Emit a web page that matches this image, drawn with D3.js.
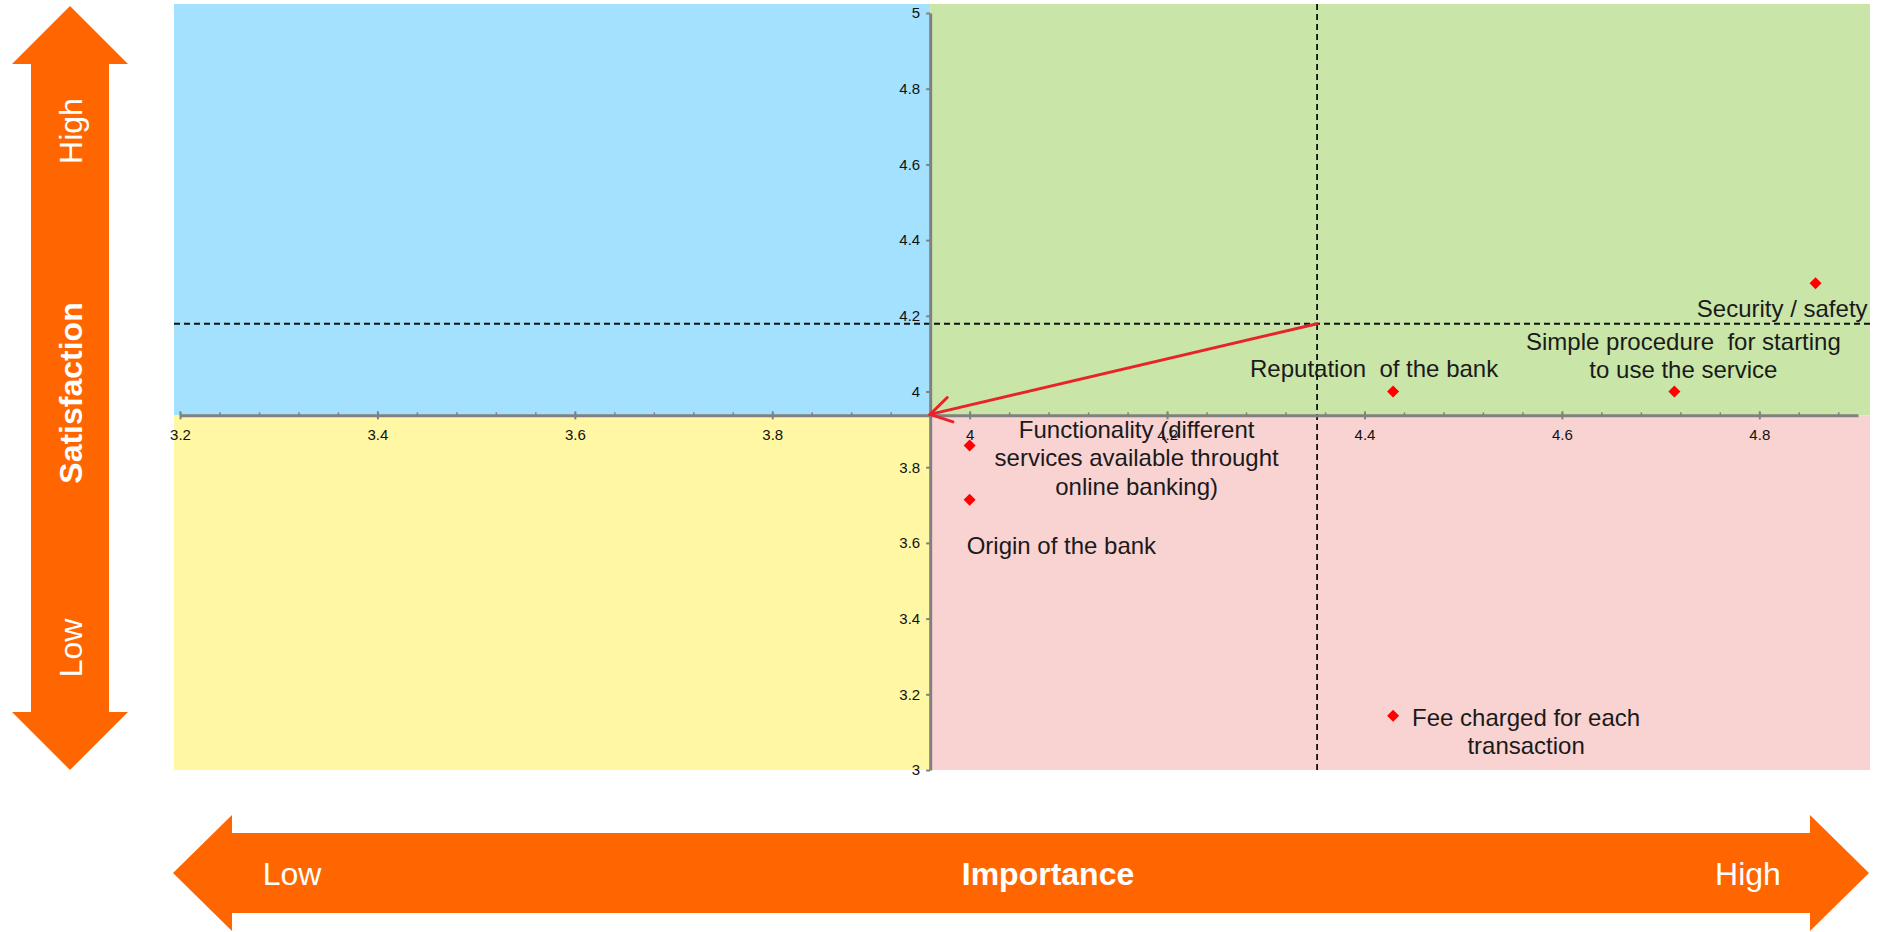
<!DOCTYPE html>
<html>
<head>
<meta charset="utf-8">
<script src="https://cdn.jsdelivr.net/npm/d3@7"></script>
<style>
    html, body { margin: 0; padding: 0; background: #ffffff; }
    svg { display: block; font-family: "Liberation Sans", Arial, sans-serif; }
</style>
</head>
<body>
<svg id="chart" width="1880" height="932"></svg>
<script>
// ===== DATA =====
const attributes = [
    "Security / safety",
    "Simple procedure for starting to use the service",
    "Reputation of the bank",
    "Functionality (different services available throught online banking)",
    "Origin of the bank",
    "Fee charged for each transaction"
];
const importance   = [4.857, 4.714, 4.429, 4.000, 4.000, 4.429];
const satisfaction = [4.286, 4.000, 4.000, 3.857, 3.714, 3.143];
const labelLines = [
    ["Security / safety"],
    ["Simple procedure  for starting", "to use the service"],
    ["Reputation  of the bank"],
    ["Functionality (different", "services available throught", "online banking)"],
    ["Origin of the bank"],
    ["Fee charged for each", "transaction"]
];
const xTicks = [3.2, 3.4, 3.6, 3.8, 4.0, 4.2, 4.4, 4.6, 4.8];
const yTicks = [3.0, 3.2, 3.4, 3.6, 3.8, 4.0, 4.2, 4.4, 4.6, 4.8, 5.0];
const xDomain = [3.2, 4.9];
const yDomain = [3, 5];
const axisCross = [3.96, 3.937];     // where the two axes / quadrants meet
const reference = [4.352, 4.179];    // dashed reference lines

// label placement relative to each point (px): anchor, dx, first baseline dy
const labelPos = [
    { anchor: "end",    dx: 52,  dy: 34 },
    { anchor: "middle", dx: 9,   dy: -42 },
    { anchor: "middle", dx: -19, dy: -15 },
    { anchor: "middle", dx: 167, dy: -8 },
    { anchor: "start",  dx: -3,  dy: 54 },
    { anchor: "middle", dx: 133, dy: 10 }
];

const points = attributes.map((name, i) => ({
    name, x: importance[i], y: satisfaction[i], lines: labelLines[i], pos: labelPos[i]
}));

// ===== LAYOUT =====
const plot = { left: 174, right: 1870, top: 4, bottom: 770 };
const orange = "#ff6600";
const lineHeight = 28.5;

const x = d3.scaleLinear().domain(xDomain).range([180, 1858]);
const y = d3.scaleLinear().domain(yDomain).range([770, 13]);

const svg = d3.select("#chart");

// ===== QUADRANTS =====
const cx = x(axisCross[0]), cy = y(axisCross[1]);
const quads = [
    { x0: plot.left, y0: plot.top, x1: cx, y1: cy, color: "#a3e1fe" },
    { x0: cx, y0: plot.top, x1: plot.right, y1: cy, color: "#c9e5a8" },
    { x0: plot.left, y0: cy, x1: cx, y1: plot.bottom, color: "#fff7a3" },
    { x0: cx, y0: cy, x1: plot.right, y1: plot.bottom, color: "#f9d2d2" }
];
svg.append("g")
    .selectAll("rect")
    .data(quads)
    .join("rect")
        .attr("x", d => d.x0)
        .attr("y", d => d.y0)
        .attr("width", d => d.x1 - d.x0)
        .attr("height", d => d.y1 - d.y0)
        .attr("fill", d => d.color);

// ===== DASHED REFERENCE LINES =====
const refs = svg.append("g")
    .attr("stroke", "#111")
    .attr("stroke-width", 1.8)
    .attr("stroke-dasharray", "6,4");
refs.append("line")
    .attr("x1", x(reference[0])).attr("x2", x(reference[0]))
    .attr("y1", plot.top).attr("y2", plot.bottom);
refs.append("line")
    .attr("x1", plot.left).attr("x2", plot.right)
    .attr("y1", y(reference[1])).attr("y2", y(reference[1]));

// ===== AXES =====
const axisColor = "#808080";

const xMinor = d3.range(0, 43).map(i => 3.2 + i * 0.04).filter(v => v <= 4.9 + 1e-9);
svg.append("g")
    .attr("transform", `translate(0,${y(axisCross[1])})`)
    .call(d3.axisBottom(x).tickValues(xMinor).tickSize(3).tickSizeOuter(0).tickFormat(""))
    .call(g => g.select(".domain").remove())
    .call(g => g.selectAll(".tick line").attr("y1", -3).attr("y2", 0).attr("stroke", axisColor).attr("stroke-width", 1.5));

const xAxis = svg.append("g")
    .attr("transform", `translate(0,${y(axisCross[1])})`)
    .call(d3.axisBottom(x).tickValues(xTicks).tickSizeOuter(0).tickFormat(d => d3.format("~g")(d)));
xAxis.select(".domain").attr("stroke", axisColor).attr("stroke-width", 3);
xAxis.selectAll(".tick line").attr("y1", -4).attr("y2", 4).attr("stroke", axisColor).attr("stroke-width", 2);
xAxis.selectAll(".tick text")
    .attr("y", 19).attr("dy", "0.35em")
    .attr("font-size", 15).attr("fill", "#111")
    .attr("font-family", "Liberation Sans, Arial, sans-serif");

const yAxis = svg.append("g")
    .attr("transform", `translate(${x(axisCross[0])},0)`)
    .call(d3.axisLeft(y).tickValues(yTicks).tickSize(4).tickPadding(6).tickSizeOuter(0).tickFormat(d => d3.format("~g")(d)));
yAxis.select(".domain").attr("stroke", axisColor).attr("stroke-width", 3);
yAxis.selectAll(".tick line").attr("stroke", axisColor).attr("stroke-width", 2);
yAxis.selectAll(".tick text")
    .attr("font-size", 15).attr("fill", "#111")
    .attr("font-family", "Liberation Sans, Arial, sans-serif");

// ===== RED ARROW (reference point -> axis cross) =====
const red = "#e8232a";
const ax0 = x(reference[0]), ay0 = y(reference[1]);
const ax1 = cx, ay1 = cy - 1;
const ang = Math.atan2(ay0 - ay1, ax0 - ax1);
const headLen = 24, headSpread = 0.55;
const arrow = svg.append("g")
    .attr("stroke", red).attr("stroke-width", 3).attr("fill", "none").attr("stroke-linecap", "round");
arrow.append("line").attr("x1", ax0).attr("y1", ay0).attr("x2", ax1).attr("y2", ay1);
arrow.append("path")
    .attr("d", `M${ax1 + headLen * Math.cos(ang + headSpread)},${ay1 + headLen * Math.sin(ang + headSpread)}` +
               `L${ax1},${ay1}` +
               `L${ax1 + headLen * Math.cos(ang - headSpread)},${ay1 + headLen * Math.sin(ang - headSpread)}`);

// ===== POINTS =====
const diamond = d3.symbol().type(d3.symbolSquare).size(72);
svg.append("g")
    .selectAll("path")
    .data(points)
    .join("path")
        .attr("d", diamond)
        .attr("transform", d => `translate(${x(d.x)},${y(d.y)}) rotate(45)`)
        .attr("fill", "#ff0000");

// ===== LABELS =====
svg.append("g")
    .selectAll("text")
    .data(points)
    .join("text")
        .attr("font-size", 24)
        .attr("fill", "#1a1a1a")
        .attr("text-anchor", d => d.pos.anchor)
        .style("white-space", "pre")
        .each(function (d) {
            const t = d3.select(this);
            d.lines.forEach((line, i) => {
                t.append("tspan")
                    .attr("x", x(d.x) + d.pos.dx)
                    .attr("y", y(d.y) + d.pos.dy + i * lineHeight)
                    .text(line);
            });
        });

// ===== ORANGE DIRECTION ARROWS =====
// vertical (satisfaction)
const v = { cx: 70, top: 6, bottom: 770, headHalf: 58, shaftHalf: 39, headLen: 58 };
svg.append("path")
    .attr("fill", orange)
    .attr("d", [
        [v.cx, v.top],
        [v.cx + v.headHalf, v.top + v.headLen],
        [v.cx + v.shaftHalf, v.top + v.headLen],
        [v.cx + v.shaftHalf, v.bottom - v.headLen],
        [v.cx + v.headHalf, v.bottom - v.headLen],
        [v.cx, v.bottom],
        [v.cx - v.headHalf, v.bottom - v.headLen],
        [v.cx - v.shaftHalf, v.bottom - v.headLen],
        [v.cx - v.shaftHalf, v.top + v.headLen],
        [v.cx - v.headHalf, v.top + v.headLen]
    ].map((p, i) => (i ? "L" : "M") + p[0] + "," + p[1]).join("") + "Z");

// horizontal (importance)
const h = { cy: 873, left: 173, right: 1869, headHalf: 58, shaftHalf: 40, headLen: 59 };
svg.append("path")
    .attr("fill", orange)
    .attr("d", [
        [h.left, h.cy],
        [h.left + h.headLen, h.cy - h.headHalf],
        [h.left + h.headLen, h.cy - h.shaftHalf],
        [h.right - h.headLen, h.cy - h.shaftHalf],
        [h.right - h.headLen, h.cy - h.headHalf],
        [h.right, h.cy],
        [h.right - h.headLen, h.cy + h.headHalf],
        [h.right - h.headLen, h.cy + h.shaftHalf],
        [h.left + h.headLen, h.cy + h.shaftHalf],
        [h.left + h.headLen, h.cy + h.headHalf]
    ].map((p, i) => (i ? "L" : "M") + p[0] + "," + p[1]).join("") + "Z");

const arrowTexts = [
    { text: "High",         x: v.cx, y: 131, rotate: -90, bold: false },
    { text: "Satisfaction", x: v.cx, y: 393, rotate: -90, bold: true },
    { text: "Low",          x: v.cx, y: 648, rotate: -90, bold: false },
    { text: "Low",          x: 292,  y: h.cy, rotate: 0, bold: false },
    { text: "Importance",   x: 1048, y: h.cy, rotate: 0, bold: true },
    { text: "High",         x: 1748, y: h.cy, rotate: 0, bold: false }
];
svg.append("g")
    .selectAll("text")
    .data(arrowTexts)
    .join("text")
        .attr("transform", d => `translate(${d.x},${d.y}) rotate(${d.rotate})`)
        .attr("text-anchor", "middle")
        .attr("dy", "0.36em")
        .attr("font-size", 32)
        .attr("font-weight", d => d.bold ? "bold" : "normal")
        .attr("fill", "#ffffff")
        .text(d => d.text);
</script>
</body>
</html>
